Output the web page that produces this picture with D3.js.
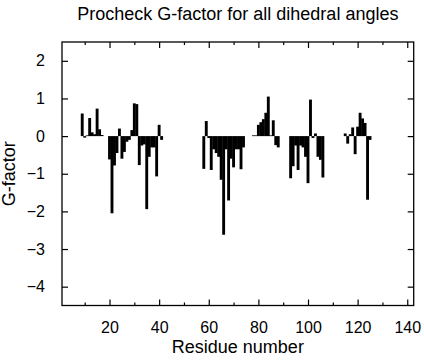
<!DOCTYPE html>
<html>
<head>
<meta charset="utf-8">
<script src="https://cdn.jsdelivr.net/npm/d3@7"></script>
<style>
  html, body { margin: 0; padding: 0; background: #fff; }
  svg { display: block; }
  text { font-family: "Liberation Sans", Arial, Helvetica, sans-serif; fill: #000; }
</style>
</head>
<body>
<svg id="chart" width="424" height="360"></svg>
<script>
// ---- data ----
const residues = [9,10,11,12,13,14,15,16,17,
  20,21,22,23,24,25,26,27,28,29,30,31,32,33,34,35,36,37,38,39,40,41,
  58,59,60,61,62,63,64,65,66,67,68,69,70,71,72,73,74,
  78,79,80,81,82,83,84,85,86,87,88,
  93,94,95,96,97,98,99,100,101,102,103,104,105,106,
  115,116,117,118,119,120,121,122,123,124,125];
const gFactor = [0.6,-0.04,0.02,0.48,0.1,0.05,0.73,0.18,0.03,
  -0.62,-2.05,-0.78,-0.45,0.2,-0.6,-0.42,-0.15,-0.1,0.16,0.87,0.85,-0.77,-0.25,-0.22,-1.94,-0.55,-0.3,-0.3,-1.07,0.3,-0.1,
  -0.87,0.4,-0.05,-0.9,-0.35,-0.45,-0.55,-1.16,-2.62,-0.35,-1.71,-0.6,-0.83,-0.35,-0.35,-0.88,-0.3,
  0.02,0.02,0.3,0.37,0.45,0.62,1.05,0.02,0.42,-0.24,-0.3,
  -1.12,-0.8,-0.25,-0.9,-0.25,-0.3,-0.55,-1.25,0.97,-0.05,0.07,-0.55,-0.63,-1.1,
  0.07,-0.2,0.05,0.23,-0.48,0.25,0.62,0.47,0.35,-1.69,-0.1];
const xMajorTicks = [20,40,60,80,100,120,140];
const xMinorTicks = [10,30,50,70,90,110,130];
const yTicks = [-4,-3,-2,-1,0,1,2];
const xDomain = [0.85, 142.6];
const yDomain = [-4.5, 2.5];
const titleText = "Procheck G-factor for all dihedral angles";
const xLabel = "Residue number";
const yLabel = "G-factor";

// ---- layout ----
const L = 62, R = 413.7, T = 42, B = 305.5;
const svg = d3.select("#chart");
const x = d3.scaleLinear().domain(xDomain).range([L, R]);
const y = d3.scaleLinear().domain(yDomain).range([B, T]);

const data = residues.map((r, i) => ({r, v: gFactor[i]}));

// bars (slight overlap so adjacent boxes merge into solid blocks)
const pad = 0.2;
svg.append("g").selectAll("rect").data(data).join("rect")
  .attr("x", d => x(d.r - 0.5) - pad)
  .attr("width", d => x(d.r + 0.5) - x(d.r - 0.5) + 2 * pad)
  .attr("y", d => y(Math.max(0, d.v)))
  .attr("height", d => Math.abs(y(d.v) - y(0)))
  .attr("fill", "#000");

function styleAxis(g) {
  g.select(".domain").remove();
  g.selectAll("line").attr("stroke", "#000").attr("stroke-width", 1.2);
  g.selectAll("text").style("font-size", "16px").attr("fill", "#000");
}

// bottom axis
svg.append("g").attr("transform", `translate(0,${B})`)
  .call(d3.axisBottom(x).tickValues(xMajorTicks).tickSize(-6).tickPadding(16).tickFormat(d3.format("d")))
  .call(styleAxis);
svg.append("g").attr("transform", `translate(0,${B})`)
  .call(d3.axisBottom(x).tickValues(xMinorTicks).tickSize(-3).tickFormat(""))
  .call(styleAxis);
// top axis
svg.append("g").attr("transform", `translate(0,${T})`)
  .call(d3.axisTop(x).tickValues(xMajorTicks).tickSize(-6).tickFormat(""))
  .call(styleAxis);
svg.append("g").attr("transform", `translate(0,${T})`)
  .call(d3.axisTop(x).tickValues(xMinorTicks).tickSize(-3).tickFormat(""))
  .call(styleAxis);
// left axis
svg.append("g").attr("transform", `translate(${L},0)`)
  .call(d3.axisLeft(y).tickValues(yTicks).tickSize(-6).tickPadding(17).tickFormat(d3.format("d")))
  .call(styleAxis);
// right axis
svg.append("g").attr("transform", `translate(${R},0)`)
  .call(d3.axisRight(y).tickValues(yTicks).tickSize(-6).tickFormat(""))
  .call(styleAxis);

// frame
svg.append("rect").attr("x", L).attr("y", T).attr("width", R - L).attr("height", B - T)
  .attr("fill", "none").attr("stroke", "#000").attr("stroke-width", 1.3);

// title and labels
svg.append("text").attr("x", (L + R) / 2).attr("y", 20).attr("text-anchor", "middle")
  .style("font-size", "18px").text(titleText);
svg.append("text").attr("x", (L + R) / 2).attr("y", 353).attr("text-anchor", "middle")
  .style("font-size", "18px").text(xLabel);
svg.append("text").attr("transform", `translate(15,${(T + B) / 2}) rotate(-90)`)
  .attr("text-anchor", "middle").style("font-size", "18px").text(yLabel);
</script>
</body>
</html>
